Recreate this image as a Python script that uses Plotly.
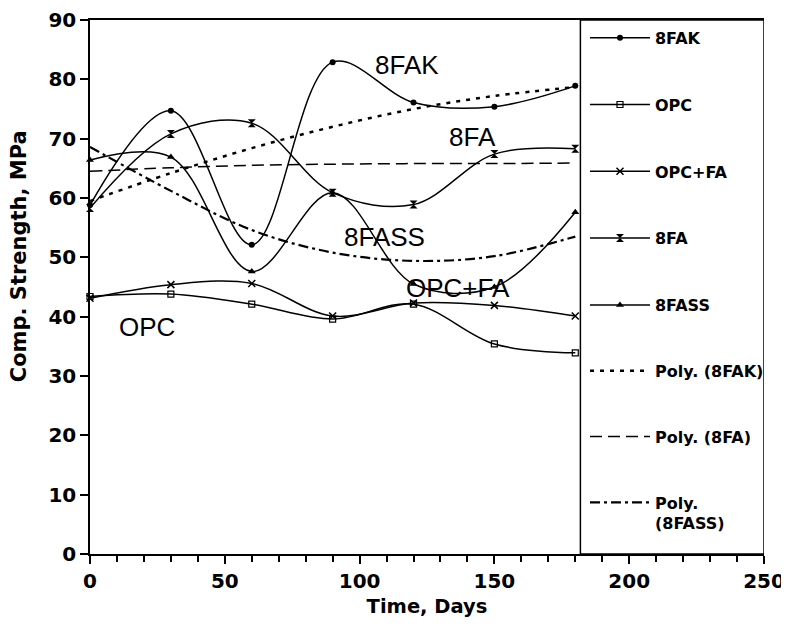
import plotly.graph_objects as go

days = [0, 30, 60, 90, 120, 150, 180]
s_8fak = [58.8, 74.7, 52.1, 82.9, 76.1, 75.4, 78.9]
s_opc = [43.4, 43.8, 42.1, 39.6, 42.1, 35.4, 33.9]
s_opcfa = [43.1, 45.4, 45.6, 40.1, 42.3, 41.9, 40.1]
s_8fa = [58.3, 70.8, 72.6, 60.9, 58.9, 67.4, 68.3]
s_8fass = [66.4, 66.9, 47.6, 60.9, 45.5, 45.0, 57.6]
poly_8fak = [59.5, 64.2, 68.4, 72.0, 75.0, 77.2, 78.7]
poly_8fa = [64.5, 65.1, 65.5, 65.7, 65.8, 65.8, 65.9]
poly_8fass = [68.6, 61.2, 54.6, 50.8, 49.4, 50.2, 53.5]

label_text = ["8FAK", "8FA", "8FASS", "OPC+FA", "OPC"]
label_x = [117.6, 141.7, 109.4, 136.5, 21.1]
label_y = [82.5, 70.2, 53.5, 44.9, 38.2]

FONT = "Liberation Sans, Arial, sans-serif"
BFONT = "DejaVu Sans, Liberation Sans, Arial, sans-serif"
fig = go.Figure()

series = [
    ("8FAK", s_8fak, dict(symbol="circle", size=6, color="black")),
    ("OPC", s_opc, dict(symbol="square-open", size=6, color="black", line=dict(width=1.2, color="black"))),
    ("OPC+FA", s_opcfa, dict(symbol="x-thin-open", size=7, color="black", line=dict(width=1.5, color="black"))),
    ("8FA", s_8fa, dict(symbol="hourglass", size=8, color="black")),
    ("8FASS", s_8fass, dict(symbol="triangle-up", size=7, color="black")),
]
for i, (name, vals, mk) in enumerate(series):
    fig.add_trace(go.Scatter(
        x=days, y=vals, name=name, mode="lines+markers",
        line=dict(color="black", width=1.5, shape="spline", smoothing=1.0),
        marker=mk, cliponaxis=False, legendgroup="g%d" % i, legend="legend"))

trends = [
    ("Poly. (8FAK)", poly_8fak, "4px,6px", 2.5),
    ("Poly. (8FA)", poly_8fa, "12px,6px", 1.5),
    ("Poly.<br>(8FASS)", poly_8fass, "10px,4px,3px,4px", 2.2),
]
for j, (name, vals, dash, w) in enumerate(trends):
    fig.add_trace(go.Scatter(
        x=days, y=vals, name=name, mode="lines",
        line=dict(color="black", width=w, dash=dash, shape="spline", smoothing=1.0),
        legendgroup="t%d" % j, legend="legend2"))

for t, x, y in zip(label_text, label_x, label_y):
    fig.add_annotation(x=x, y=y, text=t, showarrow=False, xref="x", yref="y",
                       font=dict(family=FONT, size=26, color="black"))

# y-axis title (as rotated text, centred where the original places it)
fig.add_annotation(x=-0.105, y=0.558, xref="paper", yref="paper", text="Comp. Strength, MPa",
                   textangle=-90, showarrow=False, xanchor="center", yanchor="middle",
                   font=dict(family=BFONT, size=21, color="black", weight="bold"))

fig.add_shape(type="rect", xref="x", yref="y", x0=181.9, x1=250, y0=0, y1=90,
              line=dict(color="black", width=1.5), fillcolor="rgba(0,0,0,0)", layer="above")

legend_common = dict(xanchor="left", yanchor="top", bgcolor="rgba(0,0,0,0)",
                     itemwidth=60, valign="top",
                     font=dict(family=BFONT, size=16, color="black", weight="bold"))

fig.update_layout(
    width=789, height=630,
    margin=dict(l=82, r=33, t=12, b=84),
    paper_bgcolor="white", plot_bgcolor="white",
    font=dict(family=FONT, color="black"),
    showlegend=True,
    legend=dict(x=0.7344, y=0.9985, tracegroupgap=43, **legend_common),
    legend2=dict(x=0.7344, y=0.3749, tracegroupgap=42, **legend_common),
    xaxis=dict(range=[0, 250], dtick=50, tick0=0, ticks="outside", ticklen=8,
               tickwidth=1.5, tickcolor="black", showline=True, linecolor="black",
               linewidth=1.5, mirror=True, showgrid=False, zeroline=False,
               automargin=False, ticklabeloverflow="allow",
               minor=dict(dtick=10, ticks="outside", ticklen=6, tickwidth=1.5, tickcolor="black"),
               tickfont=dict(family=BFONT, size=20, color="black", weight="bold"),
               title=dict(text="Time, Days", standoff=8,
                          font=dict(family=BFONT, size=19.5, color="black", weight="bold"))),
    yaxis=dict(range=[0, 90], dtick=10, tick0=0, ticks="outside", ticklen=8,
               tickwidth=1.5, tickcolor="black", showline=True, linecolor="black",
               linewidth=1.5, showgrid=False, zeroline=False, automargin=False,
               ticklabeloverflow="allow",
               tickfont=dict(family=BFONT, size=20, color="black", weight="bold")),
)

fig.write_html("out.html")
